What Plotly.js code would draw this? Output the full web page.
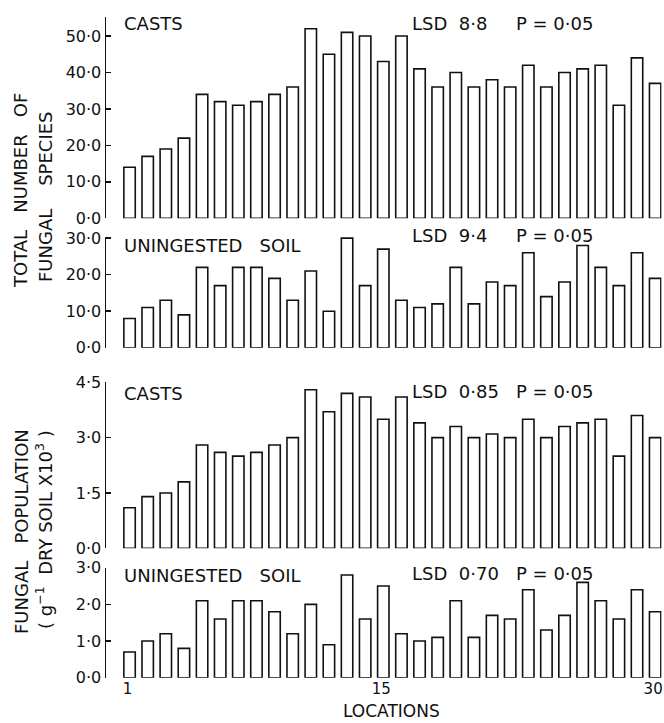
<!DOCTYPE html>
<html>
<head>
<meta charset="utf-8">
<script src="https://cdn.plot.ly/plotly-3.0.1.min.js"></script>
<style>html,body{margin:0;padding:0;background:#fff}</style>
</head>
<body>
<div id="chart" style="width:664px;height:723px"></div>
<script>
// Data
const locations = Array.from({length: 30}, (_, i) => i + 1);
const castsSpecies = [14,17,19,22,34,32,31,32,34,36,52,45,51,50,43,50,41,36,40,36,38,36,42,36,40,41,42,31,44,37];
const soilSpecies  = [8,11,13,9,22,17,22,22,19,13,21,10,30,17,27,13,11,12,22,12,18,17,26,14,18,28,22,17,26,19];
const castsPop     = [1.1,1.4,1.5,1.8,2.8,2.6,2.5,2.6,2.8,3.0,4.3,3.7,4.2,4.1,3.5,4.1,3.4,3.0,3.3,3.0,3.1,3.0,3.5,3.0,3.3,3.4,3.5,2.5,3.6,3.0];
const soilPop      = [0.7,1.0,1.2,0.8,2.1,1.6,2.1,2.1,1.8,1.2,2.0,0.9,2.8,1.6,2.5,1.2,1.0,1.1,2.1,1.1,1.7,1.6,2.4,1.3,1.7,2.6,2.1,1.6,2.4,1.8];

const tickVals1 = [0,10,20,30,40,50,55.3];
const tickText1 = ['0·0','10·0','20·0','30·0','40·0','50·0',' '];
const tickVals2 = [0,10,20,30];
const tickText2 = ['0·0','10·0','20·0','30·0'];
const tickVals3 = [0,1.5,3,4.5];
const tickText3 = ['0·0','1·5','3·0','4·5'];
const tickVals4 = [0,1,2,3];
const tickText4 = ['0·0','1·0','2·0','3·0'];
const xTickVals = [1,15,30];
const xTickText = ['1','15','30'];

const S = '\u00a0';
const panelLabels = ['CASTS','UNINGESTED' + S + S + S + 'SOIL','CASTS','UNINGESTED' + S + S + S + 'SOIL'];
const lsdTexts = [
  'LSD' + S + S + '8·8' + S + S + S + S + S + 'P' + S + '=' + S + '0·05',
  'LSD' + S + S + '9·4' + S + S + S + S + S + 'P' + S + '=' + S + '0·05',
  'LSD' + S + S + '0·85' + S + S + S + 'P' + S + '=' + S + '0·05',
  'LSD' + S + S + '0·70' + S + S + S + 'P' + S + '=' + S + '0·05'
];

const FONT = 'DejaVu Sans, Verdana, sans-serif';
const W = 664, H = 723;
const fy = p => (H - p) / H;   // pixel y -> paper
const fx = p => p / W;          // pixel x -> paper

const series = [castsSpecies, soilSpecies, castsPop, soilPop];
const traces = series.map((vals, i) => ({
  type: 'bar',
  x: locations,
  y: vals,
  xaxis: i === 0 ? 'x' : 'x' + (i + 1),
  yaxis: i === 0 ? 'y' : 'y' + (i + 1),
  marker: {color: '#ffffff', line: {color: '#111111', width: 1.6}},
  hoverinfo: 'x+y',
  showlegend: false
}));

const xDomain = [fx(106), fx(661.5)];
function xAxis(showLabels, anchor) {
  return {
    anchor: anchor,
    domain: xDomain,
    range: [-0.3, 30.35],
    showline: false, showgrid: false, zeroline: false,
    ticks: '',
    tickmode: 'array', tickvals: xTickVals, ticktext: xTickText,
    showticklabels: showLabels,
    ticklabeloverflow: 'allow',
    ticklabelshift: -2,
    tickfont: {family: FONT, size: 15, color: '#111'}
  };
}
function yAxis(anchor, domain, range, tv, tt) {
  return {
    anchor: anchor,
    domain: domain,
    range: range,
    showline: true, linecolor: '#111', linewidth: 1.5,
    showgrid: false, zeroline: false,
    ticks: 'inside', ticklen: 5, tickwidth: 1.5, tickcolor: '#111',
    tickmode: 'array', tickvals: tv, ticktext: tt,
    ticklabeloverflow: 'allow',
    tickfont: {family: FONT, size: 16, color: '#111'}
  };
}

const panelTop = [16.7, 236.7, 382.3, 567.7];
const panelZero = [218.3, 347.7, 548.3, 677.7];

const annotations = [];
const labelY = [24, 245, 393, 575];
const lsdY = [23, 236, 391, 573];
for (let i = 0; i < 4; i++) {
  annotations.push({xref: 'paper', yref: 'paper', x: fx(122), y: fy(labelY[i]), xanchor: 'left', yanchor: 'middle',
    text: panelLabels[i], showarrow: false, font: {family: FONT, size: 18, color: '#111'}});
  annotations.push({xref: 'paper', yref: 'paper', x: fx(410), y: fy(lsdY[i]), xanchor: 'left', yanchor: 'middle',
    text: lsdTexts[i], showarrow: false, font: {family: FONT, size: 18, color: '#111'}});
}
// Y titles
annotations.push({xref: 'paper', yref: 'paper', x: fx(21), y: fy(191), xanchor: 'center', yanchor: 'middle', textangle: -90,
  text: 'TOTAL' + S + S + S + 'NUMBER' + S + S + S + 'OF', showarrow: false, font: {family: FONT, size: 18, color: '#111'}});
annotations.push({xref: 'paper', yref: 'paper', x: fx(45), y: fy(197), xanchor: 'center', yanchor: 'middle', textangle: -90,
  text: 'FUNGAL' + S + S + S + S + 'SPECIES', showarrow: false, font: {family: FONT, size: 18, color: '#111'}});
annotations.push({xref: 'paper', yref: 'paper', x: fx(21), y: fy(532), xanchor: 'center', yanchor: 'middle', textangle: -90,
  text: 'FUNGAL' + S + S + S + 'POPULATION', showarrow: false, font: {family: FONT, size: 18, color: '#111'}});
annotations.push({xref: 'paper', yref: 'paper', x: fx(44), y: fy(530), xanchor: 'center', yanchor: 'middle', textangle: -90,
  text: '(' + S + 'g<sup>−1</sup>' + S + S + 'DRY' + S + 'SOIL' + S + 'X10<sup>3</sup>' + S + ')', showarrow: false, font: {family: FONT, size: 18, color: '#111'}});
// X title
annotations.push({xref: 'paper', yref: 'paper', x: fx(391), y: fy(711), xanchor: 'center', yanchor: 'middle',
  text: 'LOCATIONS', showarrow: false, font: {family: FONT, size: 17, color: '#111'}});

const layout = {
  width: W, height: H,
  margin: {l: 0, r: 0, t: 0, b: 0},
  paper_bgcolor: '#ffffff', plot_bgcolor: '#ffffff',
  bargap: 0.37,
  xaxis: xAxis(false, 'y'),
  xaxis2: xAxis(false, 'y2'),
  xaxis3: xAxis(false, 'y3'),
  xaxis4: xAxis(true, 'y4'),
  yaxis:  yAxis('x',  [fy(panelZero[0]), fy(panelTop[0])], [0, 55.3], tickVals1, tickText1),
  yaxis2: yAxis('x2', [fy(panelZero[1]), fy(panelTop[1])], [0, 30.4], tickVals2, tickText2),
  yaxis3: yAxis('x3', [fy(panelZero[2]), fy(panelTop[2])], [0, 4.5], tickVals3, tickText3),
  yaxis4: yAxis('x4', [fy(panelZero[3]), fy(panelTop[3])], [0, 3.0], tickVals4, tickText4),
  annotations: annotations
};

Plotly.newPlot('chart', traces, layout, {displayModeBar: false, staticPlot: true});
</script>
</body>
</html>
